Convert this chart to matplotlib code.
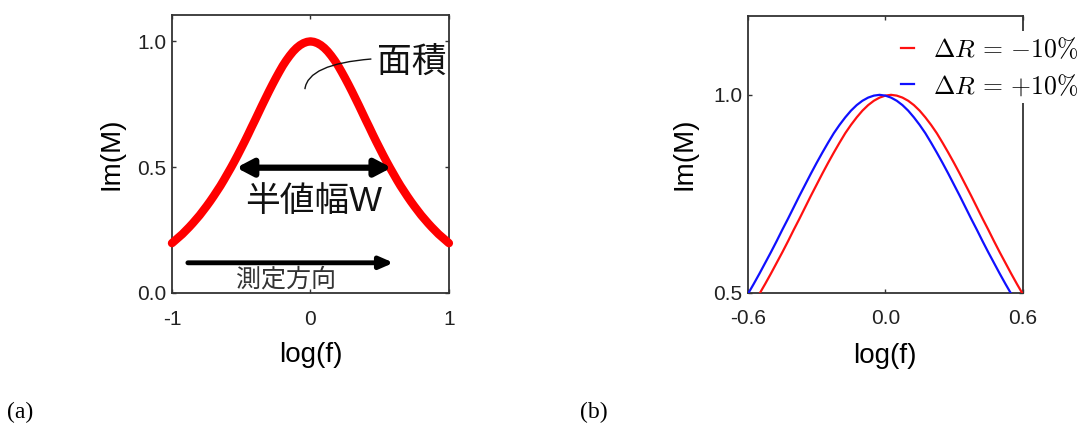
import matplotlib
matplotlib.use("Agg")
import matplotlib.pyplot as plt
from matplotlib.path import Path
from matplotlib.patches import PathPatch

plt.rcParams['font.family'] = ['Liberation Sans', 'Noto Sans CJK JP', 'DejaVu Sans']
plt.rcParams['mathtext.fontset'] = 'cm'

# (a) loss peak Im(M) versus log(f), sampled every 0.025
log_f = [round(-1 + 0.025 * i, 3) for i in range(81)]
im_m = [0.198, 0.210, 0.222, 0.234, 0.248, 0.262, 0.277, 0.293, 0.309, 0.327,
        0.345, 0.364, 0.384, 0.405, 0.426, 0.449, 0.473, 0.497, 0.522, 0.548,
        0.575, 0.602, 0.630, 0.659, 0.687, 0.716, 0.745, 0.773, 0.801, 0.828,
        0.854, 0.879, 0.903, 0.924, 0.943, 0.960, 0.974, 0.985, 0.993, 0.998,
        1.000,
        0.998, 0.993, 0.985, 0.974, 0.960, 0.943, 0.924, 0.903, 0.879, 0.854,
        0.828, 0.801, 0.773, 0.745, 0.716, 0.687, 0.659, 0.630, 0.602, 0.575,
        0.548, 0.522, 0.497, 0.473, 0.449, 0.426, 0.405, 0.384, 0.364, 0.345,
        0.327, 0.309, 0.293, 0.277, 0.262, 0.248, 0.234, 0.222, 0.210, 0.198]

# (b) peaks for resistance changes of -10 % and +10 %, sampled every 0.025
log_f_b = [round(-0.6 + 0.025 * i, 3) for i in range(49)]
im_m_minus10 = [0.449, 0.473, 0.497, 0.522, 0.548, 0.575, 0.602, 0.630, 0.659, 0.687,
                0.716, 0.745, 0.773, 0.801, 0.828, 0.854, 0.879, 0.903, 0.924, 0.943,
                0.960, 0.974, 0.985, 0.993, 0.998, 1.000, 0.998, 0.993, 0.985, 0.974,
                0.960, 0.943, 0.924, 0.903, 0.879, 0.854, 0.828, 0.801, 0.773, 0.745,
                0.716, 0.687, 0.659, 0.630, 0.602, 0.575, 0.548, 0.522, 0.497]
im_m_plus10 = [0.497, 0.522, 0.548, 0.575, 0.602, 0.630, 0.659, 0.687, 0.716, 0.745,
               0.773, 0.801, 0.828, 0.854, 0.879, 0.903, 0.924, 0.943, 0.960, 0.974,
               0.985, 0.993, 0.998, 1.000, 0.998, 0.993, 0.985, 0.974, 0.960, 0.943,
               0.924, 0.903, 0.879, 0.854, 0.828, 0.801, 0.773, 0.745, 0.716, 0.687,
               0.659, 0.630, 0.602, 0.575, 0.548, 0.522, 0.497, 0.473, 0.449]
legend_labels = [r'$\Delta R\,=\,{-}10\%$', r'$\Delta R\,=\,{+}10\%$']

fig = plt.figure(figsize=(10.87, 4.24), dpi=100)
fig.patch.set_facecolor('white')

spine_color = '#333333'
tick_color = '#222222'


def style_axes(ax):
    for s in ax.spines.values():
        s.set_color(spine_color)
        s.set_linewidth(1.3)
    ax.tick_params(direction='in', length=3, width=1.0, color=spine_color,
                   top=True, right=True, labelsize=15, labelcolor=tick_color)
    ax.tick_params(axis='x', pad=12)
    ax.tick_params(axis='y', pad=4)


# ---------- panel (a) ----------
ax1 = fig.add_axes([0.1582, 0.3090, 0.2548, 0.6557])
ax1.plot(log_f, im_m, color='#ff0000', lw=6, solid_capstyle='round',
         solid_joinstyle='round', clip_on=False, zorder=3)
ax1.set_xlim(-1, 1)
ax1.set_ylim(0, 1.105)
ax1.set_xticks([-1, 0, 1])
ax1.set_xticklabels(['-1', '0', '1'])
ax1.set_yticks([0.0, 0.5, 1.0])
ax1.set_yticklabels(['0.0', '0.5', '1.0'])
style_axes(ax1)
ax1.set_xlabel('log(f)', fontsize=20)
ax1.set_ylabel('Im(M)', fontsize=20)
ax1.xaxis.set_label_coords(0.5, -0.175)
ax1.yaxis.set_label_coords(-0.17, 0.5)

# half-width arrow
ax1.annotate('', xy=(-0.535, 0.498), xytext=(0.585, 0.498),
             arrowprops=dict(arrowstyle='<|-|>,head_length=0.95,head_width=0.5',
                             lw=4.5, color='black', shrinkA=0, shrinkB=0),
             zorder=4)
ax1.text(0.025, 0.365, '半値幅W', fontsize=25, ha='center', va='center', color='#111111')

# measurement direction arrow
ax1.annotate('', xy=(0.6, 0.12), xytext=(-0.885, 0.12),
             arrowprops=dict(arrowstyle='-|>,head_length=0.8,head_width=0.35',
                             lw=3.5, color='black', shrinkA=0, shrinkB=0))
ax1.text(-0.175, 0.055, '測定方向', fontsize=18, ha='center', va='center', color='#333333')

# area label with leader curve
leader = Path([(-0.04, 0.81), (-0.02, 0.91), (0.44, 0.93)],
              [Path.MOVETO, Path.CURVE3, Path.CURVE3])
ax1.add_patch(PathPatch(leader, facecolor='none', edgecolor='#111111', lw=1.0, zorder=5))
ax1.text(0.735, 0.915, '面積', fontsize=25, ha='center', va='center', color='#111111')

# ---------- panel (b) ----------
ax2 = fig.add_axes([0.6881, 0.3097, 0.2527, 0.6533])
l1, = ax2.plot(log_f_b, im_m_minus10, color='#ff1010', lw=1.6, zorder=3)
l2, = ax2.plot(log_f_b, im_m_plus10, color='#1010ff', lw=1.6, zorder=3)
ax2.set_xlim(-0.6, 0.6)
ax2.set_ylim(0.5, 1.2)
ax2.set_xticks([-0.6, 0.0, 0.6])
ax2.set_xticklabels(['-0.6', '0.0', '0.6'])
ax2.set_yticks([0.5, 1.0])
ax2.set_yticklabels(['0.5', '1.0'])
style_axes(ax2)
ax2.set_xlabel('log(f)', fontsize=20)
ax2.set_ylabel('Im(M)', fontsize=20)
ax2.xaxis.set_label_coords(0.5, -0.18)
ax2.yaxis.set_label_coords(-0.182, 0.5)

leg = ax2.legend([l1, l2], legend_labels, loc='upper left',
                 bbox_to_anchor=(0.538, 0.945), frameon=True, fontsize=18.5,
                 handlelength=0.5, handletextpad=0.75, labelspacing=0.42,
                 borderpad=0.2, borderaxespad=0)
leg.get_frame().set_edgecolor('none')
leg.get_frame().set_facecolor('white')
leg.get_frame().set_alpha(1.0)
leg.set_zorder(2.6)

# panel tags
fig.text(7 / 1087, 1 - 412 / 424, '(a)', fontsize=17, family='Liberation Serif',
         ha='left', va='center')
fig.text(580 / 1087, 1 - 412 / 424, '(b)', fontsize=17, family='Liberation Serif',
         ha='left', va='center')

fig.savefig('out.png', dpi=100, facecolor='white')
